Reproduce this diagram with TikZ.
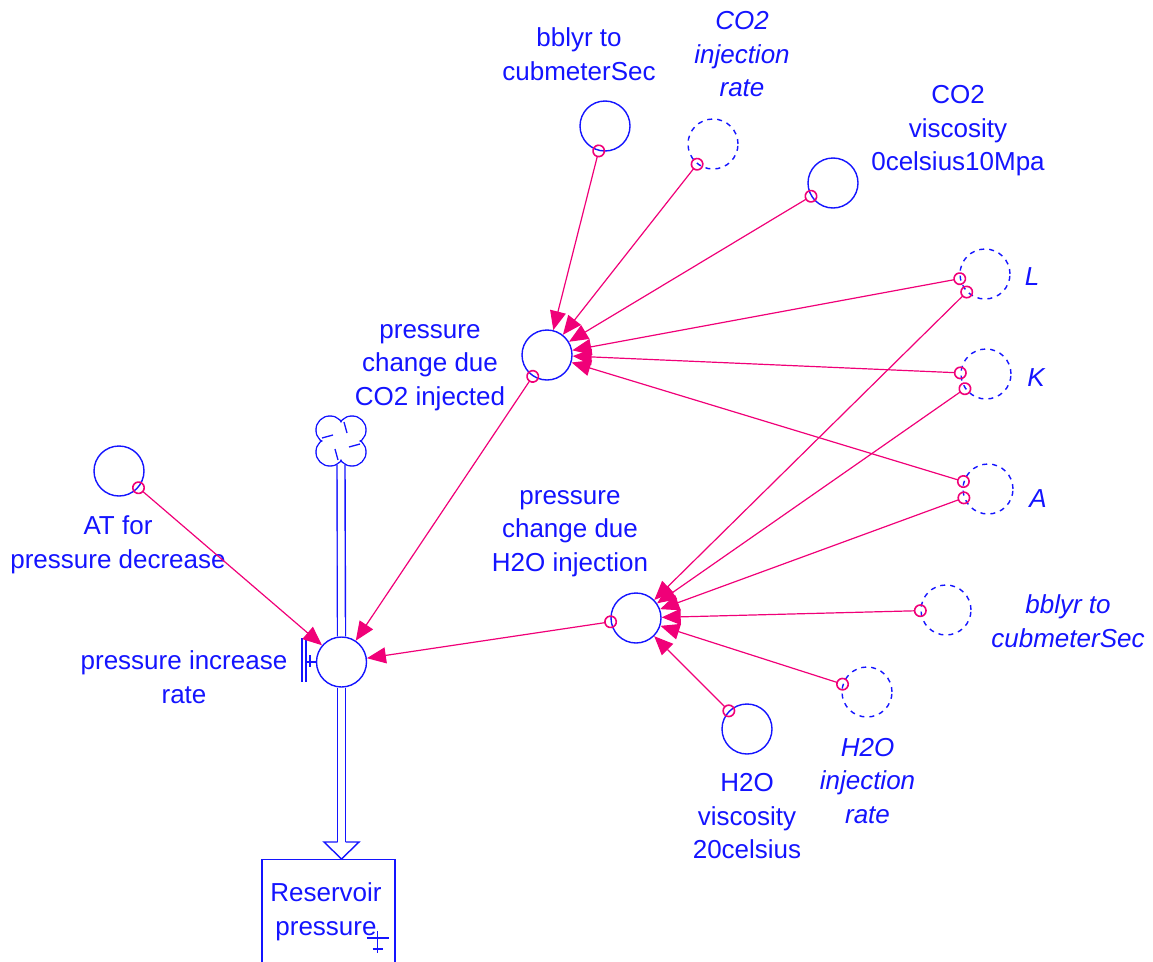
\documentclass[tikz,border=0pt]{standalone}
\usepackage{fontspec}
\setmainfont{Liberation Sans}
\usetikzlibrary{arrows.meta}
\definecolor{vblue}{RGB}{20,20,255}
\definecolor{vlink}{RGB}{240,0,120}
\begin{document}
\begin{tikzpicture}[x=1pt,y=-1pt,
  aux/.style={circle, draw=vblue, line width=1.4pt, minimum size=50pt, inner sep=0pt},
  ghost/.style={aux, dash pattern=on 5pt off 5pt},
  lbl/.style={text=vblue, font=\fontsize{26}{33.5}\selectfont, align=center, inner sep=0pt},
  glbl/.style={lbl, font=\fontsize{26}{33.5}\selectfont\itshape},
  link/.style={draw=vlink, line width=1.2pt, shorten <=-6.5pt,
    arrows={Circle[open,length=13pt,width=13pt,line width=1.6pt]-Triangle[length=19pt,width=16pt]}},
  pipe/.style={draw=vblue, double=white, line width=1.4pt, double distance=6.6pt},
  wire/.style={draw=vblue, line width=1.3pt},
]
\useasboundingbox (0,0) rectangle (1153,961);
\clip (0,0) rectangle (1153,961);

% auxiliaries and shadow variables
\node[aux]   (bbA)     at (605,126) {};
\node[ghost] (co2rate) at (713,144) {};
\node[aux]   (co2visc) at (833,183) {};
\node[ghost] (Ln)      at (985,274) {};
\node[ghost] (Kn)      at (986,374) {};
\node[ghost] (An)      at (988,489) {};
\node[aux]   (co2chg)  at (547,355) {};
\node[aux]   (h2ochg)  at (636,618) {};
\node[aux]   (atp)     at (119,471) {};
\node[aux]   (h2ovisc) at (747,729) {};
\node[ghost] (h2orate) at (867,692) {};
\node[ghost] (bbB)     at (946,610) {};
\node[aux]   (valve)   at (341.5,662) {};

% stock
\node[draw=vblue, line width=1.4pt, minimum width=133pt, minimum height=150pt,
      anchor=north, inner sep=0pt] (stock) at (328.5,859) {};

% labels
\node[lbl]  (bbAl)     at (579,56.8)   {\strut bblyr to\\\strut cubmeterSec};
\node[glbl] (co2ratel) at (742,56.3)   {\strut CO2\\\strut injection\\\strut rate};
\node[lbl]  (co2viscl) at (958,130.3)  {\strut CO2\\\strut viscosity\\\strut 0celsius10Mpa};
\node[glbl] (Ll)       at (1032,278.3) {\strut L};
\node[glbl] (Kl)       at (1036,379.3) {\strut K};
\node[glbl] (Al)       at (1038,500.3) {\strut A};
\node[lbl]  (co2chgl)  at (430,365)    {\strut pressure\\\strut change due\\\strut CO2 injected};
\node[lbl]  (h2ochgl)  at (570,531)    {\strut pressure\\\strut change due\\\strut H2O injection};
\node[lbl]  (atpl)     at (118,545)    {\strut AT for\\\strut pressure decrease};
\node[lbl]  (valvel)   at (184,680)    {\strut pressure increase\\\strut rate};
\node[lbl]  (h2oviscl) at (747,818.5)  {\strut H2O\\\strut viscosity\\\strut 20celsius};
\node[glbl] (h2oratel) at (867.5,783)  {\strut H2O\\\strut injection\\\strut rate};
\node[glbl] (bbBl)     at (1068,624)   {\strut bblyr to\\\strut cubmeterSec};
\node[lbl]  (stockl)   at (326,912)    {\strut Reservoir\\\strut pressure};

% source cloud
\coordinate (cloud) at (341,441);
\begin{scope}[shift={(cloud)}]
  \foreach \p in {(-11,-11),(11,-11),(-11,11),(11,11)}
    \draw[wire, line width=1.4pt] \p circle[radius=14pt];
  \foreach \p in {(-11,-11),(11,-11),(-11,11),(11,11)}
    \fill[white] \p circle[radius=13.2pt];
  \fill[white] (0,0) circle[radius=10pt];
  \draw[wire] (3,-19) -- (6,-8);
  \draw[wire] (19,3) -- (8,6);
  \draw[wire] (-3,19) -- (-6,8);
  \draw[wire] (-19,-3) -- (-8,-6);
\end{scope}

% flow pipe
\coordinate (tip) at (stock.north -| valve);
\draw[pipe] ([yshift=-23pt]cloud) -- (valve.north);
\draw[pipe] (valve.south) -- ([yshift=17pt]tip);
\draw[wire, line width=1.4pt, line join=miter]
  ([shift={(-4,-17)}]tip) -- ([shift={(-17.5,-17)}]tip) -- (tip)
  -- ([shift={(17.5,-17)}]tip) -- ([shift={(4,-17)}]tip);

% valve handle
\draw[wire] ([shift={(-39.5,-24)}]valve.center) -- ++(0,44);
\draw[wire] ([shift={(-35.5,-24)}]valve.center) -- ++(0,44);
\draw[wire] ([shift={(-31.5,-7)}]valve.center) -- ++(0,12);
\draw[wire] (valve.west) -- ++(-10,0);

% stock marker
\draw[wire] ([shift={(-18,72)}]stock.north east) -- ++(0,22);
\draw[wire] ([shift={(-29,79)}]stock.north east) -- ++(22,0);
\draw[wire] ([shift={(-23,90)}]stock.north east) -- ++(10,0);

% causal links
\draw[link] (bbA) -- (co2chg);
\draw[link] (co2rate) -- (co2chg);
\draw[link] (co2visc) -- (co2chg);
\draw[link] (Ln) -- (co2chg);
\draw[link] (Kn) -- (co2chg);
\draw[link] (An) -- (co2chg);
\draw[link] (Ln) -- (h2ochg);
\draw[link] (Kn) -- (h2ochg);
\draw[link] (An) -- (h2ochg);
\draw[link] (bbB) -- (h2ochg);
\draw[link] (h2orate) -- (h2ochg);
\draw[link] (h2ovisc) -- (h2ochg);
\draw[link] (h2ochg) -- (valve);
\draw[link] (co2chg) -- (valve);
\draw[link] (atp) -- (valve);
\end{tikzpicture}
\end{document}
